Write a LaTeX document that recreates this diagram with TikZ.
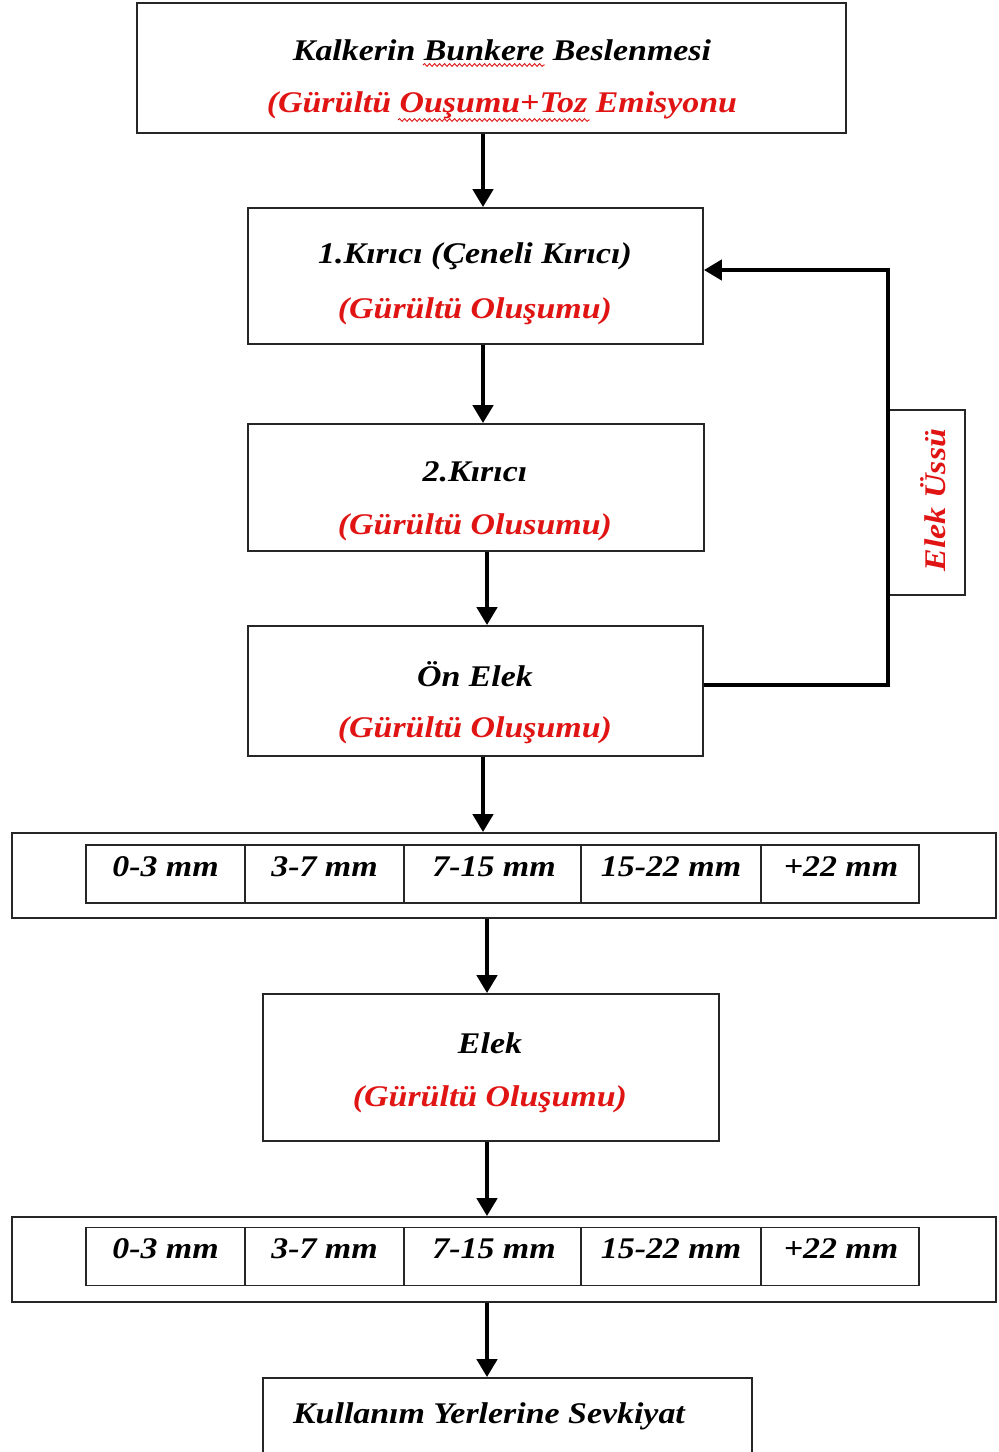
\documentclass[tikz,border=0pt]{standalone}
\usepackage{fontspec}
\setmainfont[FakeStretch=1.13]{Liberation Serif}
\usetikzlibrary{arrows.meta,decorations.pathmorphing}
\definecolor{redtxt}{RGB}{225,20,20}
\tikzset{
  box/.style={draw=black!85,line width=0.9pt,fill=white,inner sep=0pt,minimum width=#1},
  arr/.style={line width=2.3pt,-{Triangle[width=10pt,length=9pt]}},
  blk/.style={font=\fontsize{15}{17}\selectfont\bfseries\itshape,inner sep=0pt},
  red/.style={blk,text=redtxt},
  cell/.style={draw=black!85,line width=0.7pt,inner sep=0pt,minimum height=29pt},
  squig/.style={draw=redtxt,line width=0.45pt,decorate,decoration={snake,amplitude=0.7pt,segment length=2.5pt}}
}
\begin{document}
\begin{tikzpicture}[x=0.5pt,y=-0.5pt]
\useasboundingbox (0,0) rectangle (999,1452);
\clip (0,0) rectangle (999,1452);
% boxes
\node[box=354.5pt,minimum height=65pt] (b1) at (491.5,68) {};
\node[box=227.5pt,minimum height=68pt] (b2) at (475.5,276) {};
\node[box=228pt,minimum height=63.5pt] (b3) at (476,487.5) {};
\node[box=227.5pt,minimum height=65pt] (b4) at (475.5,691) {};
\node[box=228pt,minimum height=73.5pt] (b6) at (491,1067.5) {};
\node[box=244.5pt,minimum height=50pt] (b8) at (507.5,1428) {};
\node[box=492pt,minimum height=42.5pt] (r1) at (504,875.5) {};
\node[box=492pt,minimum height=42.5pt] (r2) at (504,1259.5) {};
% texts
\node[blk] (t1a) at (502,50) {Kalkerin Bunkere Beslenmesi};
\node[red] (t1b) at (502,105) {(Gürültü Ouşumu+Toz Emisyonu};
\draw[squig] (423,65) -- (545,65);
\draw[squig] (398,120) -- (590,120);
\node[blk] (t2a) at (475,256) {1.Kırıcı (Çeneli Kırıcı)};
\node[red] (t2b) at (475,311) {(Gürültü Oluşumu)};
\node[blk] (t3a) at (475,472) {2.Kırıcı};
\node[red] (t3b) at (475,527) {(Gürültü Olusumu)};
\node[blk] (t4a) at (475,674) {Ön Elek};
\node[red] (t4b) at (475,730) {(Gürültü Oluşumu)};
\node[blk] (t6a) at (490,1043) {Elek};
\node[red] (t6b) at (490,1099) {(Gürültü Oluşumu)};
\node[blk] (t8) at (489,1416) {Kullanım Yerlerine Sevkiyat};
% size tables
\foreach \r/\y/\ty in {1/874/867,2/1256.5/1249}{
  \node[cell,minimum width=79.5pt] (c\r1) at (165.5,\y) {};
  \node[cell,minimum width=79.5pt] (c\r2) at (324.5,\y) {};
  \node[cell,minimum width=88.5pt] (c\r3) at (492.5,\y) {};
  \node[cell,minimum width=90pt] (c\r4) at (671,\y) {};
  \node[cell,minimum width=79pt] (c\r5) at (840,\y) {};
  \node[blk] (n\r1) at (165.5,\ty) {0-3 mm};
  \node[blk] (n\r2) at (324.5,\ty) {3-7 mm};
  \node[blk] (n\r3) at (494,\ty) {7-15 mm};
  \node[blk] (n\r4) at (671,\ty) {15-22 mm};
  \node[blk] (n\r5) at (841,\ty) {+22 mm};
}
% vertical arrows
\coordinate (xa) at (483,0);
\coordinate (xb) at (487,0);
\draw[arr] (b1.south -| xa) -- (b2.north -| xa);
\draw[arr] (b2.south -| xa) -- (b3.north -| xa);
\draw[arr] (b3.south -| xb) -- (b4.north -| xb);
\draw[arr] (b4.south -| xa) -- (r1.north -| xa);
\draw[arr] (r1.south -| xb) -- (b6.north -| xb);
\draw[arr] (b6.south -| xb) -- (r2.north -| xb);
\draw[arr] (r2.south -| xb) -- (b8.north -| xb);
% feedback loop
\node[draw=black!85,line width=0.9pt,fill=white,minimum width=38.5pt,minimum height=92.5pt,inner sep=0pt] (eu) at (926.5,502.5) {};
\node[red,rotate=90] (eut) at (933,500) {Elek Üssü};
\coordinate (fb) at (888,685);
\coordinate (ft) at (888,270);
\draw[arr,line join=miter] (b4.east |- fb) -- (fb) -- (ft) -- (b2.east |- ft);
\end{tikzpicture}
\end{document}
